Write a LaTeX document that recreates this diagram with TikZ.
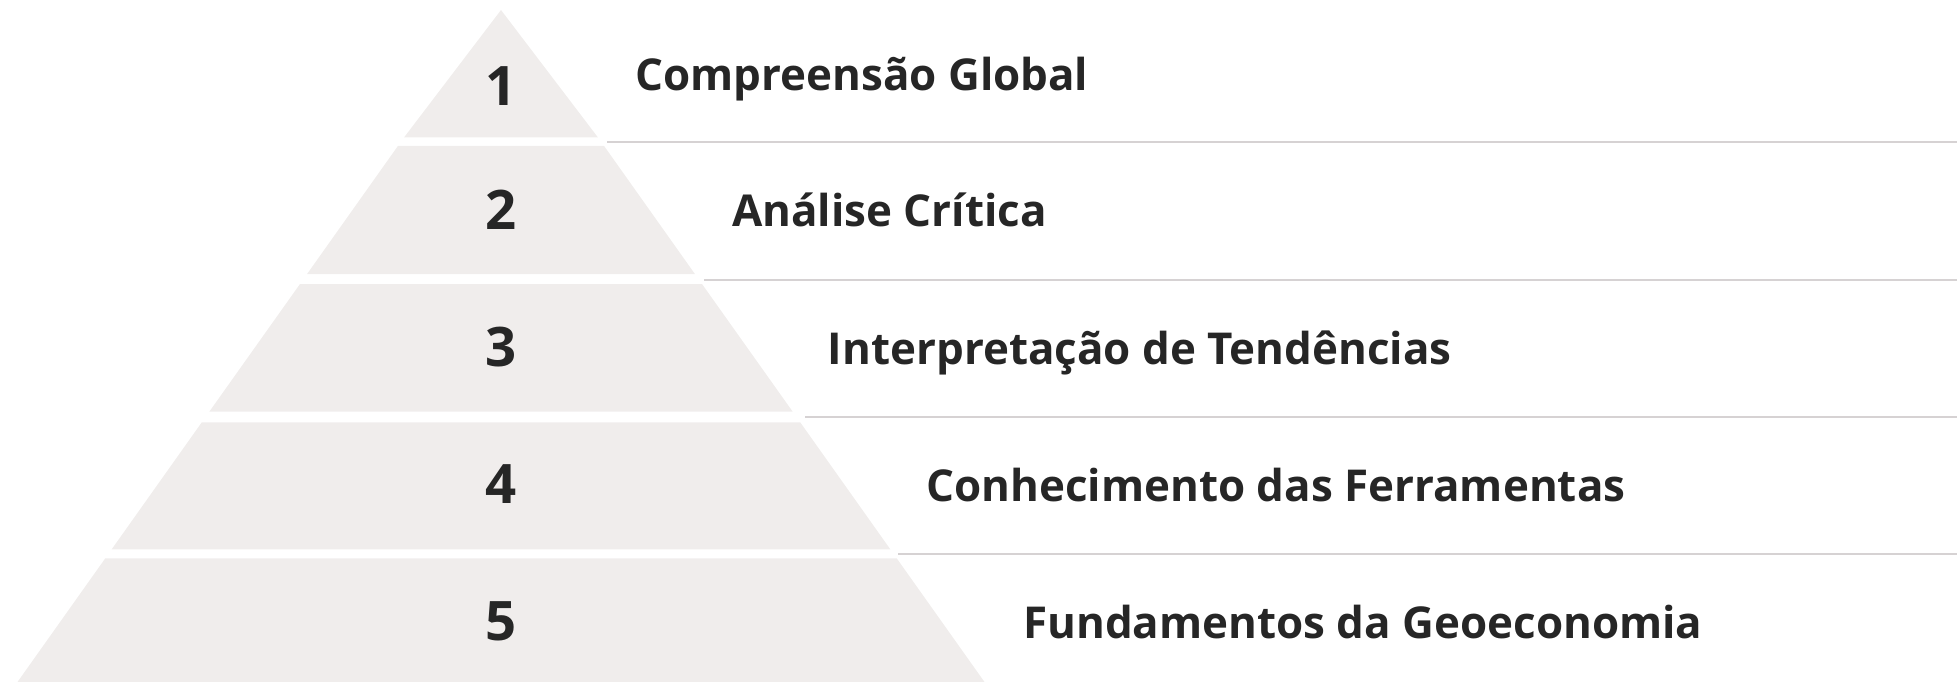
\documentclass[tikz,border=0pt]{standalone}
\usepackage{fontspec}
\setmainfont{Open Sans}
\usepackage{tikz}

\definecolor{tierfill}{HTML}{F0EDEC}
\definecolor{rulegray}{HTML}{D6D2D3}
\definecolor{inkdark}{HTML}{262626}

\tikzset{
  tier/.style={fill=tierfill, draw=none},
  levelrule/.style={draw=rulegray, line width=1.1pt},
  tiernum/.style={anchor=base, inner sep=0pt, text=inkdark, font=\fontsize{31}{31}\selectfont\bfseries},
  tierlabel/.style={anchor=base west, inner sep=0pt, text=inkdark, font=\fontsize{25}{25}\selectfont\bfseries}
}

\begin{document}
\begin{tikzpicture}[x=0.02cm, y=-0.02cm]
                \useasboundingbox (0,0) rectangle (1957,682);
                % pyramid tiers
                \path [tier] (501,10)--(598,137.5)--(404,137.5)--cycle;
                \path [tier] (397.9,146)--(604.1,146)--(694.9,274)--(307.1,274)--cycle;
                \path [tier] (300,284)--(702,284)--(792.7,411.7)--(209.3,411.7)--cycle;
                \path [tier] (201.8,422.3)--(800.2,422.3)--(890.3,549.3)--(111.7,549.3)--cycle;
                \path [tier] (105.3,558.3)--(896.7,558.3)--(984.5,682)--(17.5,682)--cycle;
                % rules between the levels
                \draw [levelrule] (607,141.7)--(1957,141.7);
                \draw [levelrule] (704,280)--(1957,280);
                \draw [levelrule] (805,417)--(1957,417);
                \draw [levelrule] (898,553.7)--(1957,553.7);
                % numbers
                \node [tiernum] (num1) at (501,106) {1};
                \node [tiernum] (num2) at (501,229.3) {2};
                \node [tiernum] (num3) at (501,366.7) {3};
                \node [tiernum] (num4) at (501,503) {4};
                \node [tiernum] (num5) at (501,640) {5};
                % labels
                \node [tierlabel] (lbl1) at (635,90.7) {Compreensão Global};
                \node [tierlabel] (lbl2) at (731.7,226.7) {Análise Crítica};
                \node [tierlabel] (lbl3) at (827.5,364.5) {Interpretação de Tendências};
                \node [tierlabel] (lbl4) at (926,501) {Conhecimento das Ferramentas};
                \node [tierlabel] (lbl5) at (1023,638) {Fundamentos da Geoeconomia};
            \end{tikzpicture}
\end{document}
